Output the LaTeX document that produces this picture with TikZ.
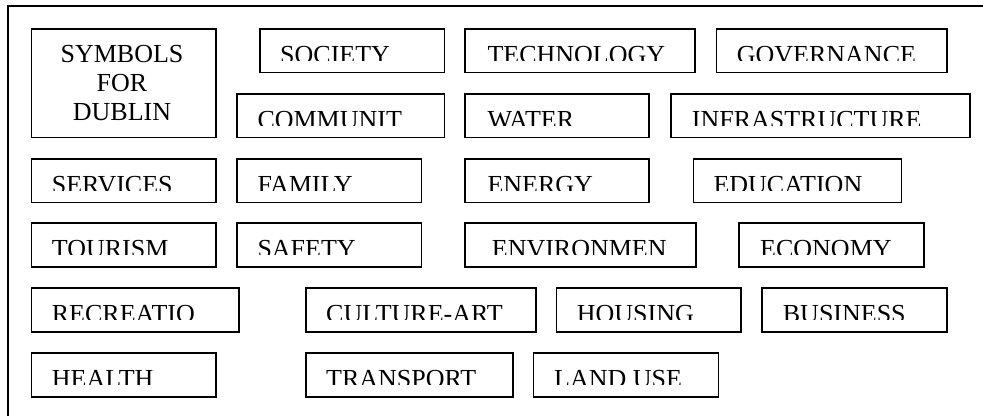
\documentclass[tikz,border=0pt]{standalone}
\usepackage{fontspec}
\setmainfont{Liberation Serif}
\tikzset{
  boxst/.style={draw, line width=1.6pt, inner sep=0pt, anchor=north west},
  labst/.style={inner sep=0pt, anchor=base west, font=\fontsize{26}{29.2}\selectfont},
  framest/.style={line width=1.5pt}
}
% name, x1, y1, x2, y2, text x, text
\newcommand\dbox[7]{%
  \node[boxst, minimum width={(#4-#2)*1pt}, minimum height={(#5-#3)*1pt}] (#1) at (#2,#3) {};
  \begin{scope}
    \clip (#1.north west) rectangle ([yshift=-32pt]#1.north east);
    \node[labst] (#1t) at (#6,{#3+35.5}) {#7};
  \end{scope}%
}
\begin{document}
\begin{tikzpicture}[x=1pt,y=-1pt]
\useasboundingbox (0,0) rectangle (983,416);
\coordinate (fa) at (983,6);
\coordinate (fb) at (8,6);
\coordinate (fc) at (8,416);
\draw[framest] (fa) -- (fb) -- (fc);

\node[boxst, minimum width=184.6pt, minimum height=108.4pt] (sym) at (30.7,28.3) {};
\node[align=center, inner sep=0pt, anchor=base, font=\fontsize{26}{29.2}\selectfont] (symt) at (122,120.5) {SYMBOLS\\FOR\\DUBLIN};

\dbox{soc}{259}{28.3}{443.7}{71.7}{280}{SOCIETY}
\dbox{tec}{464.3}{28.3}{694.3}{71.7}{487.3}{TECHNOLOGY}
\dbox{gov}{715.7}{28.3}{946}{71.7}{736.7}{GOVERNANCE}

\dbox{com}{236.3}{93.3}{443.7}{136.7}{257.3}{COMMUNIT}
\dbox{wat}{464.3}{93.3}{648.3}{136.7}{487.3}{WATER}
\dbox{inf}{670}{93.3}{969}{136.7}{691.7}{INFRASTRUCTURE}

\dbox{ser}{30.7}{158.3}{215.3}{201.7}{51.7}{SERVICES}
\dbox{fam}{236.3}{158.3}{420.7}{201.7}{257.3}{FAMILY}
\dbox{ene}{464.3}{158.3}{648.3}{201.7}{487.3}{ENERGY}
\dbox{edu}{692.7}{158.3}{900.7}{201.7}{713.3}{EDUCATION}

\dbox{tou}{30.7}{222.3}{215.3}{266}{51.7}{TOURISM}
\dbox{saf}{236.3}{222.3}{420.7}{266}{257.3}{SAFETY}
\dbox{env}{464.3}{222.3}{695}{266}{491.7}{ENVIRONMEN}
\dbox{eco}{738.3}{222.3}{923.3}{266}{760}{ECONOMY}

\dbox{rec}{30.7}{287.3}{238.3}{331}{51.7}{RECREATIO}
\dbox{cul}{305}{287.3}{535}{331}{326}{CULTURE-ART}
\dbox{hou}{555.7}{287.3}{740.3}{331}{576.7}{HOUSING}
\dbox{bus}{761.3}{287.3}{946}{331}{782.7}{BUSINESS}

\dbox{hea}{30.7}{352.3}{215.3}{396}{51.7}{HEALTH}
\dbox{tra}{305}{352.3}{512.3}{396}{326}{TRANSPORT}
\dbox{lan}{532.7}{352.3}{717.7}{396}{554}{LAND USE}
\end{tikzpicture}
\end{document}
